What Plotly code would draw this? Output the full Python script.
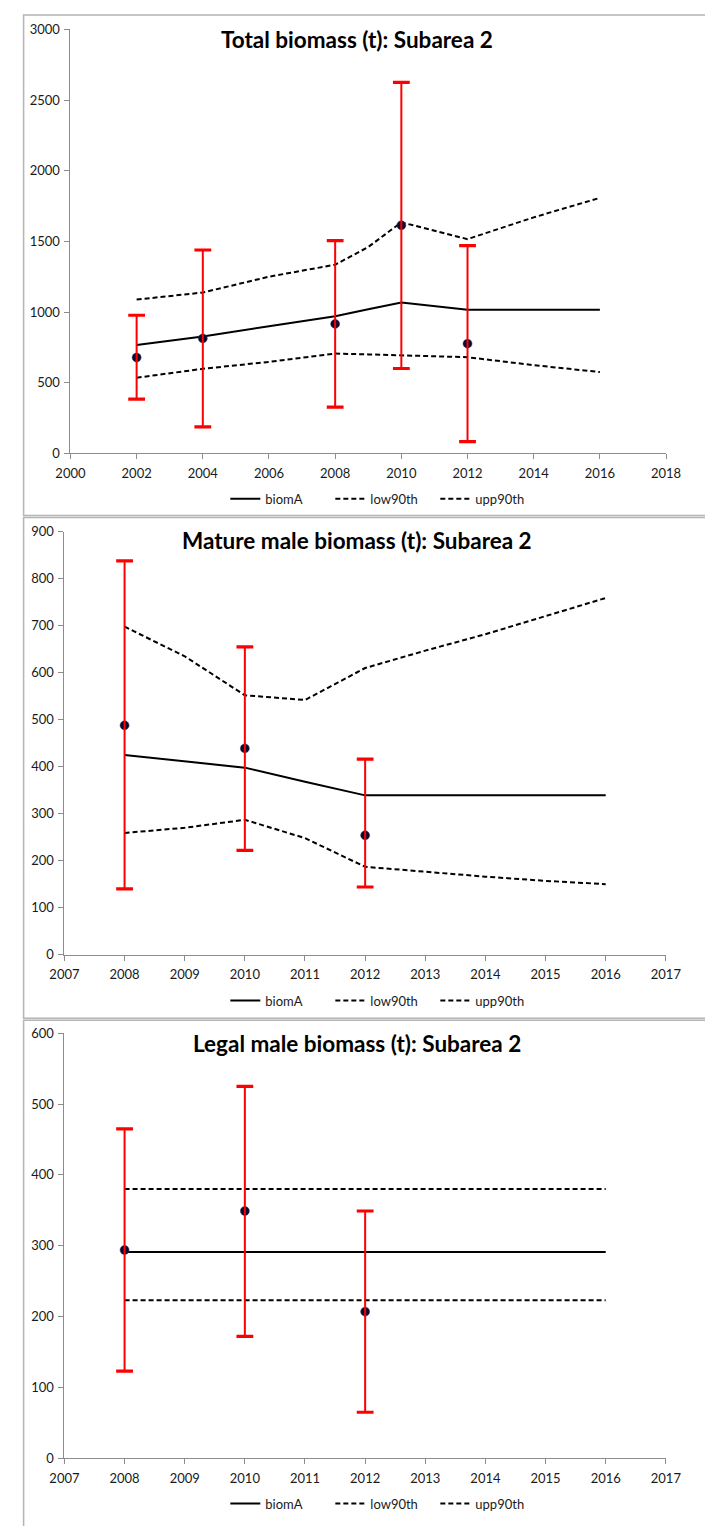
import plotly.graph_objects as go

W, H = 705, 1526

# ---------------- data ----------------
# Panel 1: Total biomass
p1_line_years = [2002, 2004, 2006, 2008, 2009, 2010, 2012, 2014, 2016]
p1_biomA = [766, 827, 900, 970, 1020, 1068, 1016, 1016, 1016]
p1_low90 = [535, 598, 647, 706, 700, 694, 680, 624, 575]
p1_upp90 = [1088, 1138, 1250, 1335, 1460, 1635, 1516, 1670, 1808]
p1_obs_years = [2002, 2004, 2008, 2010, 2012]
p1_obs = [678, 813, 916, 1614, 776]
p1_obs_low = [383, 187, 327, 600, 82]
p1_obs_upp = [977, 1439, 1505, 2626, 1470]

# Panel 2: Mature male biomass
p2_line_years = [2008, 2009, 2010, 2011, 2012, 2013, 2014, 2015, 2016]
p2_biomA = [425, 412, 398, 368, 339, 339, 339, 339, 339]
p2_low90 = [259, 270, 287, 248, 187, 176, 166, 157, 150]
p2_upp90 = [698, 635, 552, 542, 610, 647, 682, 720, 759]
p2_obs_years = [2008, 2010, 2012]
p2_obs = [488, 439, 254]
p2_obs_low = [140, 222, 144]
p2_obs_upp = [838, 655, 416]

# Panel 3: Legal male biomass
p3_line_years = [2008, 2010, 2012, 2014, 2016]
p3_biomA = [291, 291, 291, 291, 291]
p3_low90 = [223, 223, 223, 223, 223]
p3_upp90 = [380, 380, 380, 380, 380]
p3_obs_years = [2008, 2010, 2012]
p3_obs = [294, 349, 207]
p3_obs_low = [123, 172, 65]
p3_obs_upp = [465, 525, 349]

titles = ["Total biomass (t): Subarea 2",
          "Mature male biomass (t): Subarea 2",
          "Legal male biomass (t): Subarea 2"]
series_names = ["biomA", "low90th", "upp90th"]

# ---------------- layout geometry (pixels) ----------------
panels = [
    dict(line_years=p1_line_years, biomA=p1_biomA, low=p1_low90, upp=p1_upp90,
         oy=p1_obs_years, obs=p1_obs, olow=p1_obs_low, oupp=p1_obs_upp,
         xr=[2000, 2018], xd=2, yr=[0, 3000], yd=500,
         px_x=(58, 681), px_y=(21.7, 450), title_y=32, legend_y=496,
         frame=(7, 513)),
    dict(line_years=p2_line_years, biomA=p2_biomA, low=p2_low90, upp=p2_upp90,
         oy=p2_obs_years, obs=p2_obs, olow=p2_obs_low, oupp=p2_obs_upp,
         xr=[2007, 2017], xd=1, yr=[0, 900], yd=100,
         px_x=(51.7, 680.8), px_y=(529.3, 956.7), title_y=538, legend_y=1003,
         frame=(515, 1021)),
    dict(line_years=p3_line_years, biomA=p3_biomA, low=p3_low90, upp=p3_upp90,
         oy=p3_obs_years, obs=p3_obs, olow=p3_obs_low, oupp=p3_obs_upp,
         xr=[2007, 2017], xd=1, yr=[0, 600], yd=100,
         px_x=(51.7, 680.8), px_y=(1036, 1465.7), title_y=1046, legend_y=1511.5,
         frame=(1023, 1540)),
]

FONT = "Lato, 'Open Sans', sans-serif"
AXIS_COLOR = "#8c8c8c"
TEXT_COLOR = "#1a1a1a"
RED = "#ff0000"
DOT = "#0b0b2e"
DASH = "5px,3px"

fig = go.Figure()
layout = dict(width=W, height=H, autosize=False,
              margin=dict(l=0, r=0, t=0, b=0),
              paper_bgcolor="white", plot_bgcolor="white",
              font=dict(family=FONT, size=13, color=TEXT_COLOR),
              shapes=[], annotations=[])

for i, p in enumerate(panels):
    n = i + 1
    xa = "x" if n == 1 else f"x{n}"
    ya = "y" if n == 1 else f"y{n}"
    lg = "legend" if n == 1 else f"legend{n}"

    styles = [dict(color="black", width=2),
              dict(color="black", width=2, dash=DASH),
              dict(color="black", width=2, dash=DASH)]
    vals = [p["biomA"], p["low"], p["upp"]]
    for name, v, st in zip(series_names, vals, styles):
        fig.add_trace(go.Scatter(x=p["line_years"], y=v, mode="lines", name=name,
                                 line=st, xaxis=xa, yaxis=ya, legend=lg,
                                 hoverinfo="skip"))

    # observation dots
    fig.add_trace(go.Scatter(x=p["oy"], y=p["obs"], mode="markers",
                             marker=dict(color=DOT, size=9,
                                         line=dict(color="#3a3a6a", width=0.5)),
                             xaxis=xa, yaxis=ya, showlegend=False, legend=lg,
                             hoverinfo="skip"))
    # error-bar stems (drawn over the dots)
    err_up = [u - o for u, o in zip(p["oupp"], p["obs"])]
    err_dn = [o - l for o, l in zip(p["obs"], p["olow"])]
    fig.add_trace(go.Scatter(x=p["oy"], y=p["obs"], mode="markers",
                             marker=dict(color="rgba(0,0,0,0)", size=1),
                             error_y=dict(type="data", array=err_up, arrayminus=err_dn,
                                          color=RED, thickness=2, width=0, visible=True),
                             xaxis=xa, yaxis=ya, showlegend=False, legend=lg,
                             hoverinfo="skip"))
    # error-bar caps
    for capvals in (p["oupp"], p["olow"]):
        fig.add_trace(go.Scatter(x=p["oy"], y=capvals, mode="markers",
                                 marker=dict(symbol="line-ew", size=12,
                                             line=dict(color=RED, width=3.2)),
                                 xaxis=xa, yaxis=ya, showlegend=False, legend=lg,
                                 hoverinfo="skip"))

    x0, x1 = p["px_x"]
    ytop, ybot = p["px_y"]
    xkey = "xaxis" if n == 1 else f"xaxis{n}"
    ykey = "yaxis" if n == 1 else f"yaxis{n}"
    layout[xkey] = dict(domain=[x0 / W, x1 / W], range=p["xr"], dtick=p["xd"],
                        tick0=p["xr"][0], anchor=ya,
                        showline=True, linecolor=AXIS_COLOR, linewidth=1,
                        ticks="outside", ticklen=5, tickcolor=AXIS_COLOR,
                        ticklabelstandoff=3,
                        showgrid=False, zeroline=False, fixedrange=True,
                        tickfont=dict(family=FONT, size=13, color=TEXT_COLOR))
    layout[ykey] = dict(domain=[1 - ybot / H, 1 - ytop / H], range=p["yr"],
                        dtick=p["yd"], tick0=0, anchor=xa,
                        showline=True, linecolor=AXIS_COLOR, linewidth=1,
                        ticks="outside", ticklen=5, tickcolor=AXIS_COLOR,
                        ticklabelstandoff=2,
                        showgrid=False, zeroline=False, fixedrange=True,
                        tickfont=dict(family=FONT, size=13, color=TEXT_COLOR))

    layout[lg] = dict(orientation="h", x=220 / W, y=1 - p["legend_y"] / H,
                      xanchor="left", yanchor="middle",
                      bgcolor="rgba(0,0,0,0)", borderwidth=0,
                      font=dict(family=FONT, size=13, color=TEXT_COLOR),
                      entrywidth=60, entrywidthmode="pixels", itemwidth=30)

    layout["annotations"].append(dict(
        text=titles[i], xref="paper", yref="paper", x=358 / W, y=1 - p["title_y"] / H,
        xanchor="center", yanchor="middle", showarrow=False,
        font=dict(family=FONT, size=22.5, color="black", weight=700)))

    ft, fb = p["frame"]
    layout["shapes"].append(dict(type="rect", xref="paper", yref="paper",
                                 x0=9 / W, x1=1.05, y0=1 - fb / H, y1=1 - ft / H,
                                 line=dict(color="#b4b4b4", width=1.5),
                                 fillcolor="rgba(0,0,0,0)", layer="below"))

fig.update_layout(**layout)
fig.write_html("out.html",
               config={"displayModeBar": False, "staticPlot": True},
               post_script="document.body.style.margin='0';document.body.style.padding='0';")
